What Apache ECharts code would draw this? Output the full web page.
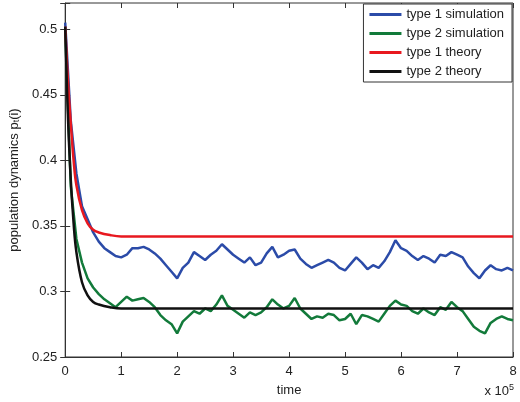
<!DOCTYPE html>
<html><head><meta charset="utf-8">
<script src="https://cdn.jsdelivr.net/npm/echarts@6/dist/echarts.min.js"></script>
<style>html,body{margin:0;padding:0;background:#fff}#c{width:520px;height:402px}</style>
</head><body><div id="c"></div>
<script>
const simT = [0,0.1,0.2,0.3,0.4,0.5,0.6,0.7,0.8,0.9,1.0,1.1,1.2,1.3,1.4,1.5,1.6,1.7,1.8,1.9,2.0,2.1,2.2,2.3,2.4,2.5,2.6,2.7,2.8,2.9,3.0,3.1,3.2,3.3,3.4,3.5,3.6,3.7,3.8,3.9,4.0,4.1,4.2,4.3,4.4,4.5,4.6,4.7,4.8,4.9,5.0,5.1,5.2,5.3,5.4,5.5,5.6,5.7,5.8,5.9,6.0,6.1,6.2,6.3,6.4,6.5,6.6,6.7,6.8,6.9,7.0,7.1,7.2,7.3,7.4,7.5,7.6,7.7,7.8,7.9,8.0];
const type1Sim = [0.505,0.43,0.39,0.365,0.355,0.345,0.338,0.333,0.33,0.327,0.326,0.328,0.333,0.333,0.334,0.332,0.329,0.325,0.32,0.315,0.31,0.318,0.322,0.33,0.327,0.324,0.328,0.331,0.336,0.332,0.328,0.325,0.322,0.326,0.32,0.322,0.329,0.334,0.326,0.328,0.331,0.332,0.325,0.321,0.318,0.32,0.322,0.324,0.322,0.318,0.316,0.321,0.326,0.322,0.317,0.32,0.318,0.323,0.33,0.339,0.333,0.331,0.327,0.324,0.327,0.325,0.322,0.328,0.327,0.33,0.328,0.326,0.319,0.314,0.31,0.316,0.32,0.317,0.316,0.318,0.316];
const type2Sim = [0.5,0.38,0.34,0.322,0.31,0.303,0.298,0.294,0.291,0.288,0.292,0.296,0.293,0.294,0.295,0.292,0.288,0.282,0.278,0.275,0.268,0.277,0.281,0.285,0.283,0.287,0.285,0.29,0.297,0.289,0.286,0.283,0.28,0.284,0.282,0.284,0.288,0.294,0.29,0.287,0.289,0.295,0.287,0.283,0.279,0.281,0.28,0.283,0.282,0.278,0.279,0.283,0.275,0.282,0.281,0.279,0.277,0.283,0.289,0.293,0.29,0.289,0.285,0.283,0.287,0.284,0.282,0.288,0.286,0.292,0.288,0.285,0.279,0.273,0.27,0.268,0.276,0.279,0.281,0.279,0.278];
const theoT = [0,0.05,0.1,0.15,0.2,0.3,0.4,0.5,0.6,0.8,1,1.5,8];
const type1Theory = [0.502,0.460,0.428,0.400,0.381,0.362,0.352,0.347,0.345,0.343,0.342,0.342,0.342];
const type2Theory = [0.502,0.432,0.385,0.352,0.330,0.307,0.297,0.292,0.290,0.288,0.287,0.287,0.287];
const xTicks = [0,1,2,3,4,5,6,7,8];
const yTicks = [0.25,0.3,0.35,0.4,0.45,0.5];

const zip = (a,b)=>a.map((v,i)=>[v,b[i]]);
const font = 'Liberation Sans';
const c = echarts.init(document.getElementById('c'));
c.setOption({
  animation:false,
  textStyle:{fontFamily:font},
  grid:{left:61,right:7,top:3,bottom:43,show:true,borderColor:'#333',borderWidth:1},
  legend:{right:8,top:4,orient:'vertical',itemWidth:32,itemHeight:3,itemGap:6,
    backgroundColor:'#fff',borderColor:'#333',borderWidth:1,padding:[4,8,4,6],
    textStyle:{fontSize:13,color:'#222',fontFamily:font},icon:'rect'},
  xAxis:[{type:'value',min:0,max:8,interval:1,
    axisLine:{lineStyle:{color:'#333'}},axisTick:{inside:true,length:5},splitLine:{show:false},
    axisLabel:{fontSize:13,color:'#222',formatter:v=>xTicks.includes(v)?String(v):''},
    name:'time',nameLocation:'middle',nameGap:27,nameTextStyle:{fontSize:13,color:'#222'}},
   {type:'value',position:'top',min:0,max:8,interval:1,axisLine:{show:false},axisTick:{inside:true,length:5,lineStyle:{color:'#333'}},axisLabel:{show:false},splitLine:{show:false}}],
  yAxis:[{type:'value',min:0.25,max:0.52,interval:0.05,
    axisLine:{lineStyle:{color:'#333'}},axisTick:{inside:true,length:5},splitLine:{show:false},
    axisLabel:{fontSize:13,color:'#222',formatter:v=>{const t=yTicks.find(x=>Math.abs(x-v)<1e-9);return t===undefined?'':String(t);}},
    name:'{a|population dynamics p}{s|t}{a|(i)}',nameLocation:'middle',nameGap:42,nameRotate:90,
    nameTextStyle:{rich:{a:{fontSize:13,color:'#222'},s:{fontSize:9,color:'#222',verticalAlign:'bottom'}}}},
   {type:'value',position:'right',min:0.25,max:0.52,interval:0.05,axisLine:{show:false},axisTick:{inside:true,length:5,lineStyle:{color:'#333'}},axisLabel:{show:false},splitLine:{show:false}}],
  graphic:[{type:'text',right:6,bottom:4,style:{text:'{a|x 10}{s|5}',rich:{a:{fontSize:13,fill:'#222',fontFamily:font},s:{fontSize:9,fill:'#222',verticalAlign:'top',padding:[0,0,8,0],fontFamily:font}}}}],
  series:[
    {name:'type 1 simulation',type:'line',data:zip(simT,type1Sim),showSymbol:false,lineStyle:{color:'#2b4ba8',width:2.5},itemStyle:{color:'#2b4ba8'},z:2},
    {name:'type 2 simulation',type:'line',data:zip(simT,type2Sim),showSymbol:false,lineStyle:{color:'#127a3a',width:2.5},itemStyle:{color:'#127a3a'},z:2},
    {name:'type 1 theory',type:'line',data:zip(theoT,type1Theory),smooth:0.4,showSymbol:false,lineStyle:{color:'#e8181f',width:2.5},itemStyle:{color:'#e8181f'},z:3},
    {name:'type 2 theory',type:'line',data:zip(theoT,type2Theory),smooth:0.4,showSymbol:false,lineStyle:{color:'#111',width:2.5},itemStyle:{color:'#111'},z:3}
  ]
});
</script></body></html>
